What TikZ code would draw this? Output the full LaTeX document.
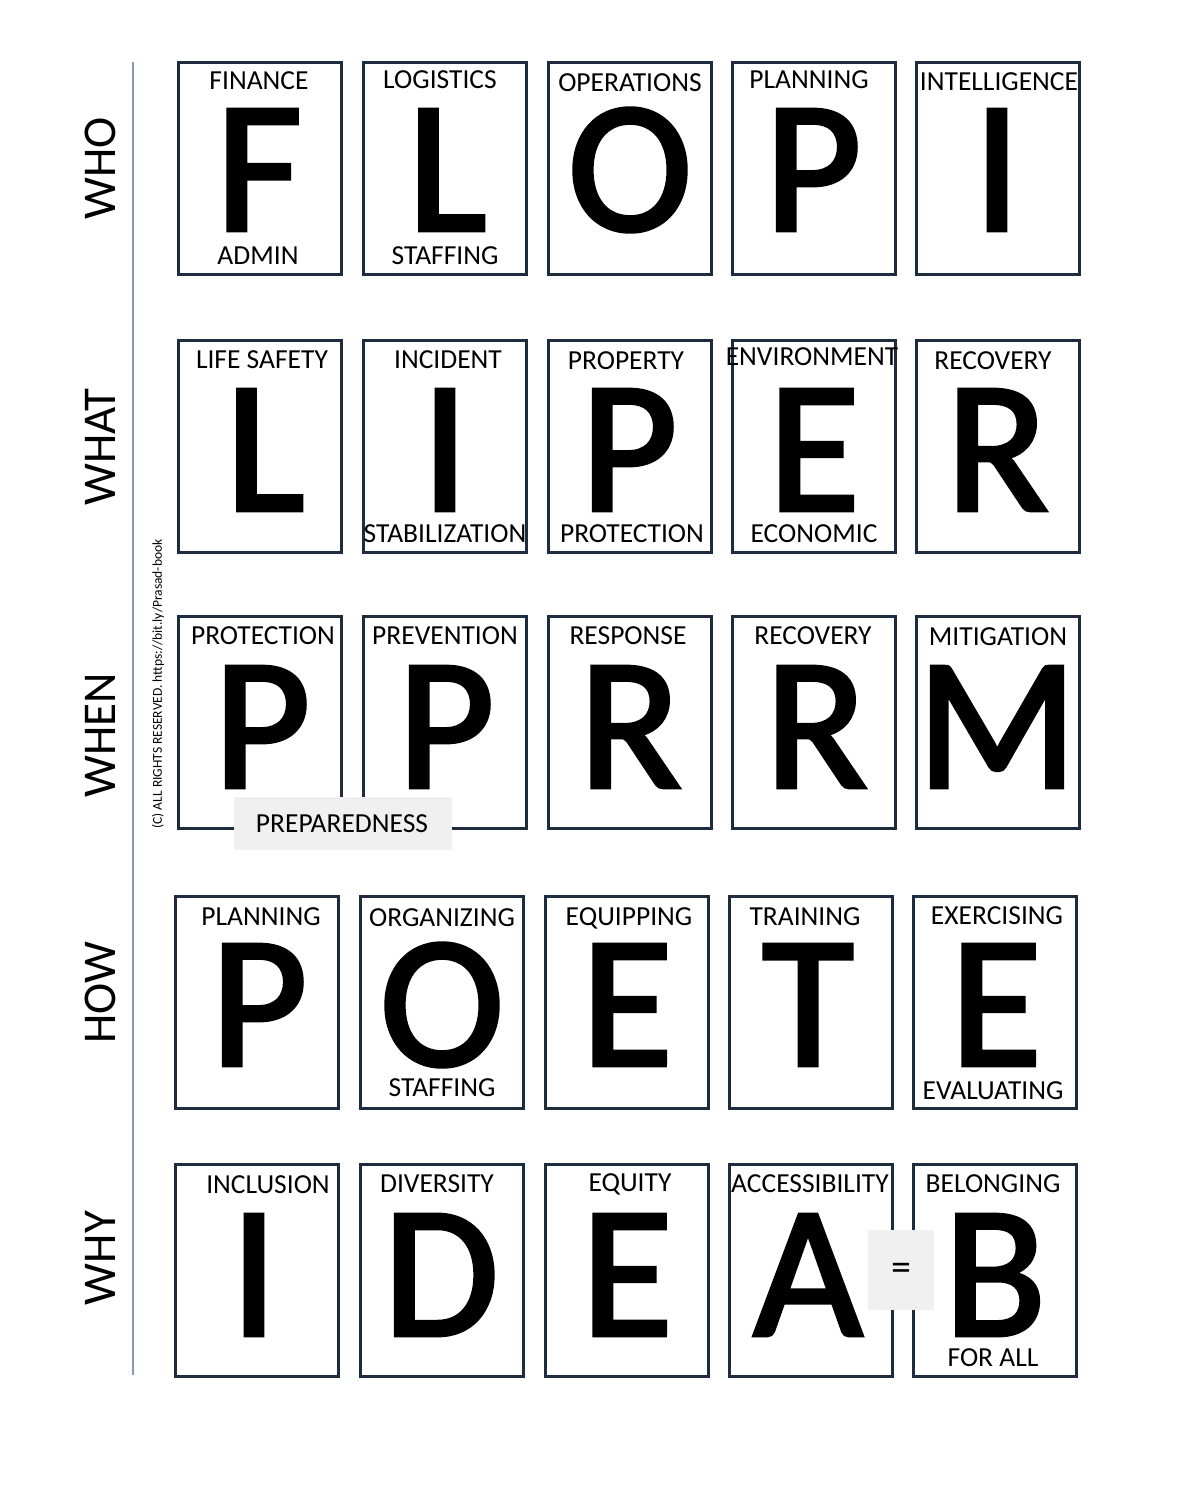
\documentclass[tikz,border=0pt]{standalone}
\usepackage{fontspec}
\setmainfont{Carlito}
\newfontfamily\bigfont[FakeBold=2.2]{Carlito}
\definecolor{boxline}{HTML}{1F2B3E}
\definecolor{axisline}{HTML}{8A9BB5}
\definecolor{graybg}{HTML}{F0F0F0}
\tikzset{
  card/.style={draw=boxline, line width=3pt, minimum width=163pt, minimum height=212pt, inner sep=0pt, anchor=north west},
  lbl/.style={font=\fontsize{27.5}{30}\selectfont, inner sep=0pt},
  big/.style={font=\bigfont\fontsize{188}{188}\selectfont, inner sep=0pt},
  rowlbl/.style={font=\fontsize{47}{50}\selectfont, rotate=90, inner sep=0pt},
  graybox/.style={fill=graybg, inner sep=0pt, anchor=north west}
}
\begin{document}
\begin{tikzpicture}[x=1pt,y=-1pt]
\useasboundingbox[fill=white] (0,0) rectangle (1183,1500);
% axis line
\coordinate (axtop) at (133,62);
\coordinate (axbot) at (133,1375);
\draw[axisline, line width=1.2pt] (axtop) -- (axbot);
% row labels
\node[rowlbl] (who) at (100,168) {WHO};
\node[rowlbl] (what) at (100,447) {WHAT};
\node[rowlbl] (when) at (100,735) {WHEN};
\node[rowlbl] (how) at (100,993) {HOW};
\node[rowlbl] (why) at (100,1258) {WHY};
\node[font=\fontsize{13.5}{14}\selectfont, rotate=90, inner sep=0pt] (copy) at (158,684) {(C) ALL RIGHTS RESERVED. https://bit.ly/Prasad-book};
% ---------- Row 1 WHO ----------
\node[card] (b11) at (177,61) {};
\node[card] (b12) at (362,61) {};
\node[card] (b13) at (547,61) {};
\node[card] (b14) at (731,61) {};
\node[card] (b15) at (915,61) {};
\node[lbl] (t11) at (259,81) {FINANCE};
\node[big] (l11) at (259,170) {F};
\node[lbl] (u11) at (258,256) {ADMIN};
\node[lbl] (t12) at (440,80) {LOGISTICS};
\node[big] (l12) at (447,170) {L};
\node[lbl] (u12) at (445,256) {STAFFING};
\node[lbl] (t13) at (630,83) {OPERATIONS};
\node[big] (l13) at (630,170) {O};
\node[lbl] (t14) at (809,80) {PLANNING};
\node[big] (l14) at (813,170) {P};
\node[lbl] (t15) at (999,82) {INTELLIGENCE};
\node[big] (l15) at (997,170) {I};
% ---------- Row 2 WHAT ----------
\node[card] (b21) at (177,339) {};
\node[card] (b22) at (362,339) {};
\node[card] (b23) at (547,339) {};
\node[card] (b24) at (731,339) {};
\node[card] (b25) at (915,339) {};
\node[lbl] (t21) at (262,360) {LIFE SAFETY};
\node[big] (l21) at (265,450) {L};
\node[lbl] (t22) at (448,360) {INCIDENT};
\node[big] (l22) at (445,450) {I};
\node[lbl] (u22) at (445,534) {STABILIZATION};
\node[lbl] (t23) at (626,361) {PROPERTY};
\node[big] (l23) at (629,450) {P};
\node[lbl] (u23) at (632,534) {PROTECTION};
\node[lbl] (t24) at (812,357) {ENVIRONMENT};
\node[big] (l24) at (814,450) {E};
\node[lbl] (u24) at (814,534) {ECONOMIC};
\node[lbl] (t25) at (993,361) {RECOVERY};
\node[big] (l25) at (997,450) {R};
% ---------- Row 3 WHEN ----------
\node[card] (b31) at (177,615) {};
\node[card] (b32) at (362,615) {};
\node[card] (b33) at (547,615) {};
\node[card] (b34) at (731,615) {};
\node[card] (b35) at (915,615) {};
\node[lbl] (t31) at (263,636) {PROTECTION};
\node[big] (l31) at (262,727) {P};
\node[lbl] (t32) at (445,636) {PREVENTION};
\node[big] (l32) at (446,727) {P};
\node[lbl] (t33) at (628,636) {RESPONSE};
\node[big] (l33) at (630,727) {R};
\node[lbl] (t34) at (813,636) {RECOVERY};
\node[big] (l34) at (816,727) {R};
\node[lbl] (t35) at (998,637) {MITIGATION};
\node[big] (l35) at (997,727) {M};
\node[graybox, minimum width=218pt, minimum height=53pt] (prep) at (234,797) {};
\node[lbl] (tprep) at (342,824) {PREPAREDNESS};
% ---------- Row 4 HOW ----------
\node[card] (b41) at (174,895) {};
\node[card] (b42) at (359,895) {};
\node[card] (b43) at (544,895) {};
\node[card] (b44) at (728,895) {};
\node[card] (b45) at (912,895) {};
\node[lbl] (t41) at (261,917) {PLANNING};
\node[big] (l41) at (259,1005) {P};
\node[lbl] (t42) at (442,918) {ORGANIZING};
\node[big] (l42) at (442,1005) {O};
\node[lbl] (u42) at (442,1088) {STAFFING};
\node[lbl] (t43) at (629,918) {EQUIPPING};
\node[big] (l43) at (627,1005) {E};
\node[lbl] (t44) at (805,917) {TRAINING};
\node[big] (l44) at (808,1005) {T};
\node[lbl] (t45) at (997,916) {EXERCISING};
\node[big] (l45) at (996,1005) {E};
\node[lbl] (u45) at (993,1091) {EVALUATING};
% ---------- Row 5 WHY ----------
\node[card] (b51) at (174,1163) {};
\node[card] (b52) at (359,1163) {};
\node[card] (b53) at (544,1163) {};
\node[card] (b54) at (728,1163) {};
\node[card] (b55) at (912,1163) {};
\node[lbl] (t51) at (268,1185) {INCLUSION};
\node[big] (l51) at (254,1275) {I};
\node[lbl] (t52) at (437,1184) {DIVERSITY};
\node[big] (l52) at (441,1275) {D};
\node[lbl] (t53) at (630,1184) {EQUITY};
\node[big] (l53) at (627,1275) {E};
\node[lbl] (t54) at (810,1184) {ACCESSIBILITY};
\node[big] (l54) at (808,1275) {A};
\node[lbl] (t55) at (993,1184) {BELONGING};
\node[big] (l55) at (995,1275) {B};
\node[lbl] (u55) at (993,1358) {FOR ALL};
\node[graybox, minimum width=66pt, minimum height=80pt] (eqbox) at (868,1230) {};
\node[font=\fontsize{40}{40}\selectfont, inner sep=0pt] (eq) at (901,1272) {=};
\end{tikzpicture}
\end{document}
